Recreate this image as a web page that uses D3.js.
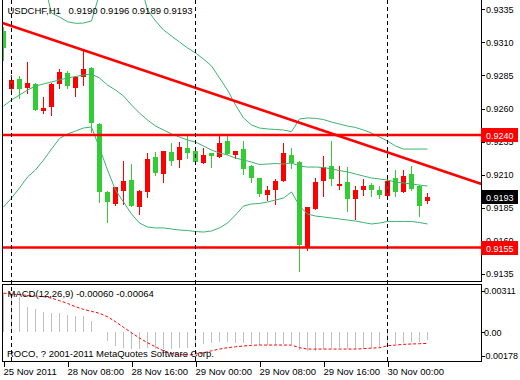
<!DOCTYPE html>
<html><head><meta charset="utf-8">
<script src="https://cdn.jsdelivr.net/npm/d3@7"></script>
<style>body{margin:0;background:#fff}svg{display:block}text{font-family:"Liberation Sans",Arial,sans-serif;font-size:9.5px}</style>
</head><body><svg id="c" width="520" height="380"></svg>
<script>
const titleSymbol = "USDCHF,H1";
const titleQuote = "0.9190 0.9196 0.9189 0.9193";
const macdTitle = "MACD(12,26,9) -0.00060 -0.00064";
const footerText = "ROCO, ? 2001-2011 MetaQuotes Software Corp.";

const open  = [0.93188,0.9275,0.92823,0.92758,0.92786,0.92584,0.92614,0.92788,0.92869,0.92758,0.92841,0.92909,0.92483,0.9197,0.91881,0.91977,0.9206,0.91859,0.91972,0.92234,0.92108,0.92272,0.92214,0.92302,0.92279,0.92191,0.92264,0.92236,0.92355,0.92247,0.92295,0.92166,0.92075,0.91949,0.91985,0.92055,0.92249,0.92196,0.91552,0.91843,0.92055,0.92166,0.92015,0.92045,0.91919,0.91985,0.92023,0.91985,0.91942,0.92075,0.91972,0.92106,0.92015,0.9190];
const high  = [0.9322,0.92854,0.92846,0.92954,0.9279,0.9269,0.92791,0.92899,0.92884,0.92845,0.93042,0.92915,0.9249,0.91975,0.92008,0.92204,0.92181,0.91985,0.92264,0.92272,0.92283,0.9234,0.92348,0.924,0.92302,0.92302,0.92268,0.924,0.92393,0.92283,0.92355,0.9217,0.92078,0.92015,0.9207,0.9234,0.92302,0.92204,0.9186,0.92075,0.92242,0.92355,0.92166,0.92158,0.92013,0.9207,0.92038,0.92015,0.9207,0.92136,0.92136,0.92166,0.9202,0.9196];
const low   = [0.92967,0.9271,0.92678,0.92715,0.92591,0.92569,0.92554,0.92758,0.92758,0.92694,0.92778,0.92425,0.91896,0.91741,0.91868,0.91881,0.91866,0.91806,0.91934,0.921,0.92048,0.92176,0.9216,0.92229,0.92195,0.92188,0.9216,0.92232,0.92255,0.92229,0.92108,0.92048,0.91942,0.91911,0.91881,0.92051,0.92153,0.91375,0.91534,0.9184,0.91939,0.92025,0.91995,0.91828,0.91768,0.91947,0.91939,0.91927,0.91942,0.91939,0.91968,0.91985,0.91791,0.9189];
const close = [0.93055,0.92816,0.9275,0.92793,0.92591,0.92604,0.92786,0.92876,0.9277,0.92841,0.92899,0.92493,0.91972,0.91896,0.92005,0.92053,0.91866,0.9198,0.92219,0.92116,0.92279,0.92206,0.9231,0.92267,0.92199,0.92249,0.92242,0.9234,0.92259,0.92279,0.92146,0.92078,0.91957,0.91985,0.92053,0.92264,0.92191,0.91571,0.91856,0.92045,0.92158,0.9207,0.9203,0.91915,0.91985,0.92015,0.91985,0.91949,0.92053,0.9197,0.92091,0.91992,0.91866,0.9193];

const bbUpper  = [0.93836,0.93798,0.9376,0.93707,0.93647,0.93564,0.93322,0.93292,0.93256,0.93244,0.93246,0.93262,0.93466,0.93722,0.93798,0.93798,0.9376,0.93571,0.93345,0.93262,0.93194,0.93148,0.93103,0.93058,0.9302,0.92974,0.92922,0.92831,0.9274,0.92627,0.92529,0.92476,0.92453,0.92446,0.92442,0.92438,0.92425,0.92521,0.92529,0.92526,0.92517,0.92498,0.92483,0.92468,0.92457,0.92438,0.92415,0.92385,0.92355,0.92317,0.92294,0.92294,0.92294,0.92294];
const bbMiddle = [0.92619,0.92665,0.92702,0.9274,0.9277,0.92786,0.92801,0.92816,0.92831,0.92842,0.92854,0.92861,0.92831,0.92778,0.9274,0.92695,0.92627,0.92566,0.92514,0.92468,0.92438,0.92408,0.92385,0.92362,0.92347,0.92317,0.92287,0.92264,0.92249,0.92226,0.92211,0.92196,0.92177,0.92181,0.92185,0.92181,0.92189,0.92166,0.92158,0.92158,0.92155,0.92143,0.92132,0.92121,0.92106,0.9209,0.92075,0.92068,0.9206,0.92045,0.92038,0.9203,0.92022,0.92015];
const bbLower  = [0.91856,0.91924,0.92,0.92083,0.92136,0.92211,0.92294,0.92374,0.92408,0.9243,0.92453,0.92461,0.92302,0.92136,0.91985,0.91894,0.91803,0.91735,0.91705,0.91698,0.91698,0.9169,0.91682,0.91679,0.91671,0.91667,0.91675,0.91698,0.91735,0.91796,0.91864,0.91879,0.91883,0.91894,0.91909,0.91924,0.9197,0.91864,0.91803,0.91788,0.91781,0.91773,0.91766,0.91758,0.9175,0.91739,0.91728,0.91735,0.91747,0.91747,0.91747,0.91747,0.91739,0.91728];

const macdMain   = [0.00291,0.00279,0.00261,0.00191,0.00171,0.00149,0.00146,0.00142,0.00129,0.00121,0.00121,0.00086,0.00004,-0.00066,-0.00101,-0.00121,-0.00124,-0.00128,-0.00121,-0.00126,-0.00124,-0.00124,-0.00121,-0.00116,-0.00101,-0.00091,-0.00083,-0.00076,-0.00071,-0.00078,-0.00083,-0.00091,-0.00096,-0.00096,-0.00096,-0.00088,-0.00088,-0.00133,-0.00143,-0.00139,-0.00126,-0.00121,-0.00121,-0.00124,-0.00124,-0.00119,-0.00116,-0.00116,-0.00096,-0.00091,-0.00078,-0.00071,-0.00073,-0.00060];
const macdSignal = [0.00293,0.00286,0.00281,0.00276,0.00271,0.00266,0.00256,0.00236,0.00216,0.00191,0.00171,0.00156,0.00142,0.00116,0.00079,0.00037,-0.00004,-0.00043,-0.00079,-0.00109,-0.00139,-0.00158,-0.00168,-0.00171,-0.00163,-0.00154,-0.00139,-0.00126,-0.00116,-0.00109,-0.00103,-0.00098,-0.00096,-0.00096,-0.00096,-0.00096,-0.00096,-0.00116,-0.00126,-0.00126,-0.00126,-0.00126,-0.00126,-0.00126,-0.00126,-0.00123,-0.00119,-0.00116,-0.00101,-0.00096,-0.00091,-0.00088,-0.00086,-0.00083];

const priceTicks = [0.9135,0.9160,0.9185,0.9210,0.9235,0.9260,0.9285,0.9310,0.9335];
const macdTicks = [0.00311,0.00,-0.00178];
const macdTickLabels = ["0.00311","0.00","-0.00178"];
const timeTickBars = [0,8,16,24,32,40,48];
const timeTickLabels = ["25 Nov 2011","28 Nov 08:00","28 Nov 16:00","29 Nov 00:00","29 Nov 08:00","29 Nov 16:00","30 Nov 00:00"];
const separatorBars = [1,24,48];
const levels = [0.9240,0.9155];
const trendBars = [0,50];
const trendPrices = [0.93245,0.92228];
const lastPrice = 0.9193;

const svg = d3.select("#c");
const FONT = '"Liberation Sans",Arial,sans-serif';
const L = 2.5, R = 481.5, mainBottom = 281.5, macdTop = 284.5, macdBottom = 361.5;
const n = open.length;
const x = d3.scaleLinear().domain([0, n-1]).range([3.5, 3.5 + 8*(n-1)]);
const y = d3.scaleLinear().domain([0.9135, 0.9335]).range([274, 9.3]);
const ym = d3.scaleLinear().domain([-0.00178, 0.00311]).range([356, 290.7]);
const UP = "#ff0000", DOWN = "#32cd32", BAND = "#3cb371";

const defs = svg.append("defs");
defs.append("clipPath").attr("id","cm").append("rect").attr("x",3).attr("y",0).attr("width",R-3).attr("height",mainBottom);
defs.append("clipPath").attr("id","cd").append("rect").attr("x",3).attr("y",macdTop+0.5).attr("width",R-3).attr("height",macdBottom-macdTop-1);

const gm = svg.append("g").attr("clip-path","url(#cm)");
const idx = d3.range(n);
const cg = gm.append("g").attr("shape-rendering","crispEdges");
cg.selectAll("line.w").data(idx).join("line")
  .attr("x1", i => x(i)).attr("x2", i => x(i))
  .attr("y1", i => Math.round(y(high[i]))).attr("y2", i => Math.round(y(low[i])) + 1)
  .attr("stroke", i => close[i] >= open[i] ? UP : DOWN).attr("stroke-width",1);
cg.selectAll("rect.b").data(idx).join("rect")
  .attr("x", i => x(i) - 2.5).attr("width", 5)
  .attr("y", i => Math.round(Math.min(y(open[i]), y(close[i]))))
  .attr("height", i => Math.max(1, Math.round(Math.max(y(open[i]), y(close[i]))) - Math.round(Math.min(y(open[i]), y(close[i])))))
  .attr("fill", i => close[i] >= open[i] ? UP : DOWN);
const bl = d3.line().x((d,i) => x(i)).y(d => y(d));
[bbUpper, bbMiddle, bbLower].forEach(s => gm.append("path").attr("d", bl(s)).attr("fill","none").attr("stroke",BAND).attr("stroke-width",1));
levels.forEach(v => gm.append("line").attr("x1",L).attr("x2",R).attr("y1",y(v)).attr("y2",y(v)).attr("stroke","#ff0000").attr("stroke-width",2.5));
const slope = (trendPrices[1]-trendPrices[0])/(trendBars[1]-trendBars[0]);
const b0 = x.invert(L), b1 = x.invert(R);
gm.append("line").attr("x1",L).attr("x2",R)
  .attr("y1", y(trendPrices[0] + slope*(b0-trendBars[0])))
  .attr("y2", y(trendPrices[0] + slope*(b1-trendBars[0])))
  .attr("stroke","#ff0000").attr("stroke-width",2.6);

const gd = svg.append("g").attr("clip-path","url(#cd)");
gd.append("g").attr("shape-rendering","crispEdges").selectAll("line").data(idx).join("line")
  .attr("x1", i => x(i)).attr("x2", i => x(i))
  .attr("y1", ym(0)).attr("y2", i => ym(macdMain[i]))
  .attr("stroke","#c0c0c0").attr("stroke-width",1);
gd.append("path").attr("d", d3.line().x((d,i)=>x(i)).y(d=>ym(d))(macdSignal))
  .attr("fill","none").attr("stroke","#ff0000").attr("stroke-width",1).attr("stroke-dasharray","3,2");

svg.append("g").selectAll("line").data(separatorBars).join("line")
  .attr("x1", d => x(d)).attr("x2", d => x(d)).attr("y1",0).attr("y2",macdBottom)
  .attr("stroke","#000").attr("stroke-width",1).attr("stroke-dasharray","4,3").attr("shape-rendering","crispEdges");

const fr = svg.append("g").attr("stroke","#000").attr("stroke-width",1).attr("shape-rendering","crispEdges").attr("fill","none");
fr.append("path").attr("d",`M${L},0V${mainBottom}H${R}V0`);
fr.append("path").attr("d",`M${L},${macdTop}H${R}V${macdBottom}H${L}Z`);

const pa = svg.append("g").attr("transform",`translate(${R},0)`)
  .call(d3.axisRight(y).tickValues(priceTicks).tickSize(3).tickPadding(1.5).tickFormat(d3.format(".4f")));
pa.select(".domain").remove();
pa.selectAll("line").attr("shape-rendering","crispEdges");
pa.selectAll("text").attr("fill","#000").style("font-family",FONT).style("font-size","9px");

const ma = svg.append("g").attr("transform",`translate(${R},0)`)
  .call(d3.axisRight(ym).tickValues(macdTicks).tickSize(3).tickPadding(0).tickFormat((d,i)=>macdTickLabels[i]));
ma.select(".domain").remove();
ma.selectAll("line").attr("shape-rendering","crispEdges");
ma.selectAll("text").attr("fill","#000").style("font-family",FONT).style("font-size","9px")
  .attr("x", (d,i) => macdTickLabels[i].startsWith("-") ? 1 : 2.5);

const ta = svg.append("g").attr("transform",`translate(0,${macdBottom})`)
  .call(d3.axisBottom(x).tickValues(timeTickBars).tickSize(5).tickFormat((d,i)=>timeTickLabels[i]));
ta.select(".domain").remove();
ta.selectAll("line").attr("shape-rendering","crispEdges");
ta.selectAll("text").attr("text-anchor","start").attr("x",-0.5).attr("y",13.5).attr("dy",null)
  .attr("fill","#000").style("font-family",FONT).style("font-size","9.5px");

const boxes = [{v:levels[0],c:"#ff0000"},{v:lastPrice,c:"#000000"},{v:levels[1],c:"#ff0000"}];
boxes.forEach(b => {
  const yy = Math.round(y(b.v));
  svg.append("rect").attr("x",R-0.5).attr("y",yy-7).attr("width",37).attr("height",14).attr("fill",b.c);
  svg.append("text").attr("x",486).attr("y",yy+3.5).attr("fill","#fff").style("font-size","9px").text(d3.format(".4f")(b.v));
});

svg.append("text").attr("x",7.5).attr("y",14).attr("fill","#000").text(titleSymbol);
svg.append("text").attr("x",68.5).attr("y",14).attr("fill","#000").text(titleQuote);
svg.append("text").attr("x",7.5).attr("y",297).attr("fill","#000").text(macdTitle);
svg.append("text").attr("x",7).attr("y",357).attr("fill","#000").text(footerText);
</script></body></html>
